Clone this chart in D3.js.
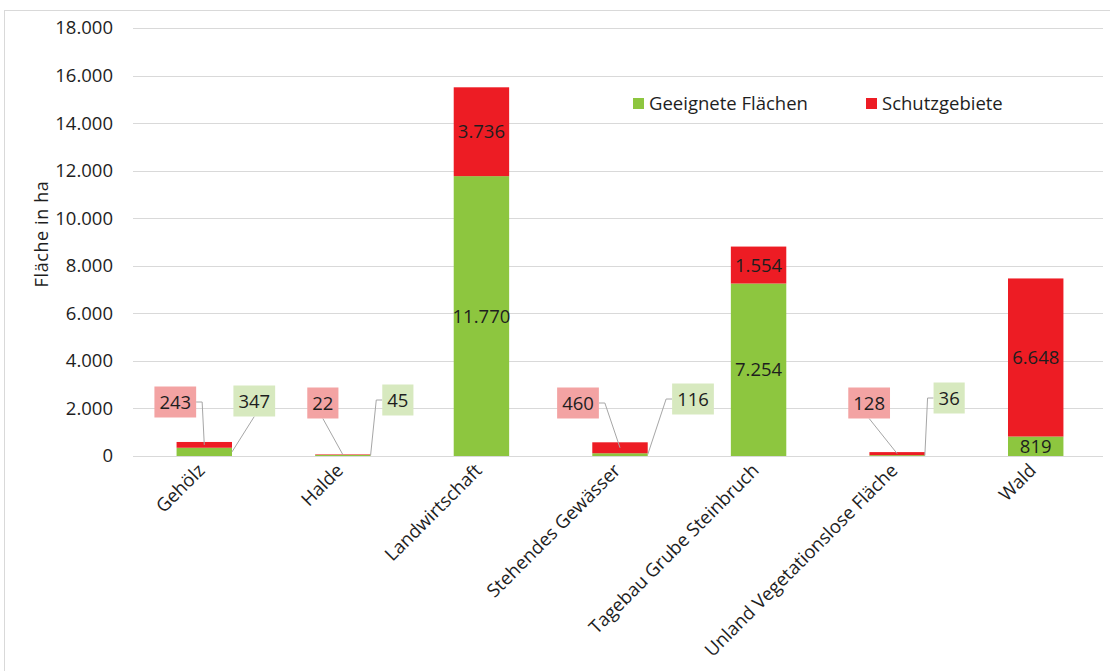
<!DOCTYPE html>
<html><head><meta charset="utf-8">
<script src="https://cdn.jsdelivr.net/npm/d3@7"></script>
<style>
body{margin:0;background:#fff;}
svg text{font-family:"Open Sans",sans-serif;}
</style></head>
<body><svg id="c" width="1110" height="671"></svg>
<script>
const categories = ["Gehölz","Halde","Landwirtschaft","Stehendes Gewässer","Tagebau Grube Steinbruch","Unland Vegetationslose Fläche","Wald"];
const geeignet = [347,45,11770,116,7254,36,819];
const schutz = [243,22,3736,460,1554,128,6648];
const yTicks = [0,2000,4000,6000,8000,10000,12000,14000,16000,18000];
const seriesNames = ["Geeignete Flächen","Schutzgebiete"];

// callout layout for small values (offsets in px), null = label inside the bar
const calloutLayout = [
  {red:{dx:-29,dy:-54,mode:"side"}, green:{dx:50,dy:-55,mode:"bottom"}},
  {red:{dx:-20,dy:-53,mode:"bottom"}, green:{dx:55,dy:-56,mode:"side"}},
  null,
  {red:{dx:-42,dy:-53,mode:"side"}, green:{dx:73,dy:-57,mode:"side"}},
  null,
  {red:{dx:-28,dy:-53,mode:"bottom"}, green:{dx:52,dy:-58,mode:"side"}},
  null
];

const W=1110,H=671;
const C={green:"#8dc63f",red:"#ed1c24",greenL:"#d7e9bf",redL:"#f3a3a3",grid:"#d9d9d9",text:"#1e1e1e"};
const FS=18.5;
const svg=d3.select("#c");
const fmt = d3.formatLocale({decimal:",",thousands:".",grouping:[3],currency:["","€"]}).format(",d");

// frame
svg.append("line").attr("x1",4).attr("x2",W).attr("y1",10.5).attr("y2",10.5).attr("stroke","#d9d9d9");
svg.append("line").attr("x1",4.5).attr("x2",4.5).attr("y1",10).attr("y2",H).attr("stroke","#d9d9d9");

const x=d3.scaleBand().domain(categories).range([135,1105]).paddingInner(0.6).paddingOuter(0.3);
const y=d3.scaleLinear().domain([0,18000]).range([456,28]);

// grid
svg.append("g").selectAll("line").data(yTicks).join("line")
  .attr("x1",133).attr("x2",1103).attr("y1",d=>Math.round(y(d))+0.5).attr("y2",d=>Math.round(y(d))+0.5)
  .attr("stroke",C.grid).attr("stroke-width",1);

// y axis labels
const yAxis=d3.axisLeft(y).tickValues(yTicks).tickFormat(fmt).tickSize(0).tickPadding(0);
const ga=svg.append("g").attr("transform","translate(113,0)").call(yAxis);
ga.select(".domain").remove();
ga.selectAll("text").attr("font-size",FS).attr("fill",C.text).attr("font-family","Open Sans");

svg.append("text").attr("transform","translate(48,234) rotate(-90)").attr("text-anchor","middle")
  .attr("font-size",18).attr("letter-spacing","0.6px").attr("fill",C.text).text("Fläche in ha");

// bars
const data=categories.map((c,i)=>({c,g:geeignet[i],r:schutz[i],i}));
const bw=x.bandwidth();
svg.append("g").selectAll("rect").data(data).join("rect")
  .attr("x",d=>x(d.c)).attr("width",bw).attr("y",d=>y(d.g)).attr("height",d=>y(0)-y(d.g)).attr("fill",C.green);
svg.append("g").selectAll("rect").data(data).join("rect")
  .attr("x",d=>x(d.c)).attr("width",bw).attr("y",d=>y(d.g+d.r)).attr("height",d=>y(d.g)-y(d.g+d.r)).attr("fill",C.red);

// labels
const lab=svg.append("g");
data.forEach(d=>{
  const cx=x(d.c)+bw/2;
  const L=calloutLayout[d.i];
  if(!L){
    lab.append("text").attr("x",cx).attr("y",(y(0)+y(d.g))/2).attr("dy","0.36em").attr("text-anchor","middle")
      .attr("font-size",FS).attr("fill",C.text).text(fmt(d.g));
    lab.append("text").attr("x",cx).attr("y",(y(d.g)+y(d.g+d.r))/2).attr("dy","0.36em").attr("text-anchor","middle")
      .attr("font-size",FS).attr("fill",C.text).text(fmt(d.r));
  } else {
    [["red",d.r,cx,(y(d.g)+y(d.g+d.r))/2,C.redL],["green",d.g,cx+bw/2,(y(0)+y(d.g))/2,C.greenL]].forEach(([k,v,ex,ey,fill])=>{
      const o=L[k];
      const bx=cx+o.dx, by=y(0)+o.dy;
      const t=lab.append("text").attr("x",bx).attr("y",by).attr("dy","0.36em").attr("text-anchor","middle")
        .attr("font-size",FS).attr("fill",C.text).text(fmt(v));
      const tw=t.node().getComputedTextLength();
      const w=tw+10,h=31;
      let pts;
      if(o.mode==="bottom"){
        pts=[[bx,by+h/2],[ex,ey]];
      } else {
        const sx = ex>bx ? bx+w/2 : bx-w/2;
        const s = ex>bx ? 1 : -1;
        pts=[[sx,by],[sx+6*s,by],[ex,ey]];
      }
      lab.insert("path","text").attr("d",d3.line()(pts)).attr("fill","none").attr("stroke","#a6a6a6").attr("stroke-width",1);
      lab.insert("rect","text").attr("x",bx-w/2).attr("y",by-h/2).attr("width",w).attr("height",h).attr("fill",fill);
    });
  }
});

// x labels
svg.append("g").selectAll("text").data(categories).join("text")
  .attr("transform",d=>`translate(${x(d)+bw/2-3},${467}) rotate(-45)`)
  .attr("text-anchor","end").attr("dy","0.35em").attr("font-size",FS).attr("fill",C.text).text(d=>d);

// legend
const lg=svg.append("g");
[[seriesNames[0],C.green,633],[seriesNames[1],C.red,866]].forEach(([n,col,lx])=>{
  lg.append("rect").attr("x",lx).attr("y",98).attr("width",11).attr("height",11).attr("fill",col);
  lg.append("text").attr("x",lx+16).attr("y",103.5).attr("dy","0.36em").attr("font-size",FS).attr("fill",C.text).text(n);
});
</script></body></html>
